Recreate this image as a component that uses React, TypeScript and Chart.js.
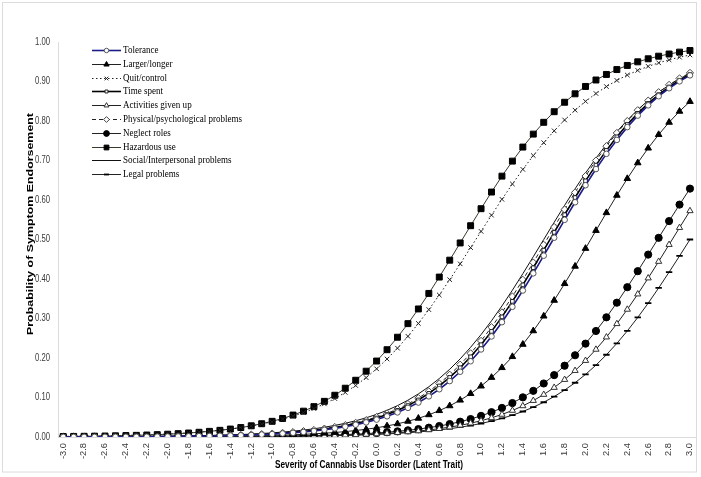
import React, { useEffect, useRef } from 'react';
import { Chart, registerables } from 'chart.js';
import { drawPoint } from 'chart.js/helpers';

Chart.register(...registerables);

const categories = [
  '-3.0','-2.9','-2.8','-2.7','-2.6','-2.5','-2.4','-2.3','-2.2','-2.1',
  '-2.0','-1.9','-1.8','-1.7','-1.6','-1.5','-1.4','-1.3','-1.2','-1.1',
  '-1.0','-0.9','-0.8','-0.7','-0.6','-0.5','-0.4','-0.3','-0.2','-0.1',
  '0.0','0.1','0.2','0.3','0.4','0.5','0.6','0.7','0.8','0.9',
  '1.0','1.1','1.2','1.3','1.4','1.5','1.6','1.7','1.8','1.9',
  '2.0','2.1','2.2','2.3','2.4','2.5','2.6','2.7','2.8','2.9',
  '3.0',
];

const tolerance = [
  0.0002,0.0002,0.0003,0.0003,0.0004,0.0005,0.0006,0.0007,0.0008,0.0010,
  0.0012,0.0015,0.0017,0.0021,0.0025,0.0030,0.0036,0.0043,0.0052,0.0062,
  0.0074,0.0089,0.0106,0.0127,0.0152,0.0182,0.0218,0.0260,0.0311,0.0370,
  0.0441,0.0525,0.0623,0.0738,0.0872,0.1029,0.1209,0.1416,0.1652,0.1918,
  0.2217,0.2546,0.2907,0.3296,0.3709,0.4144,0.4591,0.5045,0.5498,0.5943,
  0.6374,0.6784,0.7168,0.7521,0.7845,0.8137,0.8397,0.8627,0.8829,0.9004,
  0.9156,
];

const largerLonger = [
  0.0001,0.0001,0.0001,0.0002,0.0002,0.0003,0.0003,0.0004,0.0004,0.0005,
  0.0006,0.0008,0.0009,0.0011,0.0013,0.0016,0.0019,0.0022,0.0027,0.0032,
  0.0039,0.0046,0.0056,0.0067,0.0080,0.0096,0.0114,0.0137,0.0164,0.0196,
  0.0234,0.0280,0.0333,0.0397,0.0473,0.0562,0.0667,0.0789,0.0932,0.1098,
  0.1289,0.1507,0.1755,0.2034,0.2345,0.2687,0.3060,0.3459,0.3882,0.4322,
  0.4773,0.5227,0.5678,0.6118,0.6541,0.6940,0.7313,0.7655,0.7966,0.8245,
  0.8493,
];

const quitControl = [
  0.0015,0.0017,0.0021,0.0024,0.0029,0.0034,0.0040,0.0047,0.0055,0.0065,
  0.0076,0.0090,0.0106,0.0125,0.0147,0.0172,0.0203,0.0238,0.0280,0.0329,
  0.0385,0.0451,0.0528,0.0617,0.0719,0.0838,0.0973,0.1128,0.1304,0.1503,
  0.1726,0.1974,0.2249,0.2549,0.2875,0.3225,0.3595,0.3983,0.4384,0.4794,
  0.5206,0.5616,0.6017,0.6405,0.6775,0.7125,0.7451,0.7751,0.8026,0.8274,
  0.8497,0.8696,0.8872,0.9027,0.9163,0.9281,0.9383,0.9472,0.9549,0.9615,
  0.9671,
];

const timeSpent = [
  0.0002,0.0003,0.0003,0.0004,0.0005,0.0006,0.0007,0.0008,0.0010,0.0012,
  0.0014,0.0016,0.0020,0.0024,0.0028,0.0034,0.0040,0.0048,0.0058,0.0069,
  0.0083,0.0099,0.0118,0.0141,0.0168,0.0201,0.0240,0.0285,0.0340,0.0404,
  0.0480,0.0569,0.0673,0.0795,0.0938,0.1103,0.1292,0.1508,0.1753,0.2030,
  0.2336,0.2674,0.3041,0.3434,0.3851,0.4285,0.4730,0.5180,0.5627,0.6063,
  0.6484,0.6883,0.7256,0.7599,0.7911,0.8193,0.8445,0.8667,0.8861,0.9031,
  0.9178,
];

const activitiesGivenUp = [
  0.0000,0.0001,0.0001,0.0001,0.0001,0.0001,0.0001,0.0001,0.0002,0.0002,
  0.0002,0.0003,0.0003,0.0004,0.0005,0.0006,0.0007,0.0008,0.0010,0.0012,
  0.0014,0.0016,0.0019,0.0023,0.0027,0.0032,0.0038,0.0046,0.0054,0.0064,
  0.0076,0.0090,0.0107,0.0127,0.0151,0.0179,0.0211,0.0250,0.0295,0.0349,
  0.0412,0.0485,0.0571,0.0671,0.0787,0.0921,0.1075,0.1252,0.1453,0.1680,
  0.1934,0.2217,0.2528,0.2866,0.3230,0.3617,0.4023,0.4442,0.4870,0.5300,
  0.5725,
];

const physicalPsych = [
  0.0002,0.0003,0.0003,0.0004,0.0005,0.0006,0.0007,0.0008,0.0011,0.0013,
  0.0015,0.0017,0.0021,0.0025,0.0030,0.0036,0.0042,0.0051,0.0061,0.0073,
  0.0087,0.0104,0.0124,0.0149,0.0177,0.0212,0.0253,0.0300,0.0358,0.0425,
  0.0505,0.0598,0.0707,0.0835,0.0984,0.1156,0.1353,0.1577,0.1831,0.2117,
  0.2433,0.2780,0.3155,0.3556,0.3979,0.4417,0.4865,0.5315,0.5760,0.6192,
  0.6607,0.6999,0.7364,0.7697,0.7999,0.8273,0.8516,0.8729,0.8915,0.9078,
  0.9218,
];

const neglectRoles = [
  0.0001,0.0001,0.0001,0.0001,0.0001,0.0001,0.0002,0.0002,0.0002,0.0003,
  0.0003,0.0004,0.0005,0.0006,0.0007,0.0008,0.0010,0.0011,0.0013,0.0016,
  0.0019,0.0022,0.0026,0.0031,0.0037,0.0044,0.0052,0.0062,0.0073,0.0086,
  0.0102,0.0121,0.0143,0.0169,0.0200,0.0236,0.0278,0.0328,0.0387,0.0455,
  0.0535,0.0628,0.0736,0.0860,0.1004,0.1168,0.1355,0.1567,0.1805,0.2070,
  0.2363,0.2684,0.3030,0.3400,0.3792,0.4199,0.4618,0.5042,0.5466,0.5883,
  0.6288,
];

const hazardousUse = [
  0.0012,0.0015,0.0018,0.0021,0.0025,0.0030,0.0036,0.0042,0.0050,0.0060,
  0.0071,0.0085,0.0101,0.0120,0.0143,0.0169,0.0201,0.0239,0.0283,0.0336,
  0.0397,0.0469,0.0555,0.0654,0.0769,0.0903,0.1057,0.1235,0.1437,0.1666,
  0.1923,0.2210,0.2526,0.2870,0.3242,0.3635,0.4049,0.4477,0.4913,0.5349,
  0.5780,0.6201,0.6604,0.6984,0.7340,0.7668,0.7967,0.8235,0.8475,0.8688,
  0.8875,0.9038,0.9179,0.9302,0.9407,0.9498,0.9575,0.9641,0.9696,0.9744,
  0.9784,
];

const socialInterpersonal = [
  0.0003,0.0004,0.0005,0.0005,0.0006,0.0008,0.0009,0.0011,0.0013,0.0015,
  0.0018,0.0022,0.0026,0.0031,0.0037,0.0044,0.0052,0.0062,0.0074,0.0088,
  0.0105,0.0124,0.0148,0.0175,0.0208,0.0247,0.0293,0.0347,0.0411,0.0486,
  0.0573,0.0676,0.0794,0.0932,0.1091,0.1273,0.1480,0.1715,0.1978,0.2271,
  0.2592,0.2942,0.3318,0.3717,0.4134,0.4564,0.5000,0.5436,0.5866,0.6283,
  0.6682,0.7058,0.7408,0.7729,0.8022,0.8285,0.8520,0.8727,0.8909,0.9068,
  0.9206,
];

const legalProblems = [
  0.0000,0.0000,0.0001,0.0001,0.0001,0.0001,0.0001,0.0001,0.0002,0.0002,
  0.0002,0.0003,0.0003,0.0004,0.0005,0.0005,0.0006,0.0008,0.0009,0.0011,
  0.0013,0.0015,0.0018,0.0021,0.0024,0.0029,0.0034,0.0040,0.0048,0.0056,
  0.0066,0.0078,0.0092,0.0109,0.0128,0.0151,0.0179,0.0210,0.0248,0.0291,
  0.0342,0.0402,0.0471,0.0553,0.0646,0.0755,0.0880,0.1024,0.1188,0.1374,
  0.1584,0.1820,0.2082,0.2370,0.2685,0.3026,0.3389,0.3773,0.4173,0.4583,
  0.5000,
];

const yTicks = [0, 0.1, 0.2, 0.3, 0.4, 0.5, 0.6, 0.7, 0.8, 0.9, 1.0];

const xTitle = 'Severity of Cannabis Use Disorder (Latent Trait)';
const yTitle = 'Probability of Symptom Endorsement';

const SANS = "Arial, 'Liberation Sans', sans-serif";
const SERIF = "'Times New Roman', 'Liberation Serif', serif";

type Series = {
  label: string;
  data: number[];
  color: string;
  width: number;
  dash: number[];
  style: string | false;
  radius: number;
  fill: string;
  stroke: string;
  pbw: number;
};

const seriesList: Series[] = [
  { label: 'Tolerance', data: tolerance, color: '#1c1c8a', width: 1.6, dash: [], style: 'circle', radius: 2.8, fill: '#ffffff', stroke: '#555555', pbw: 1 },
  { label: 'Larger/longer', data: largerLonger, color: '#222222', width: 1, dash: [], style: 'triangle', radius: 3.8, fill: '#000000', stroke: '#000000', pbw: 1 },
  { label: 'Quit/control', data: quitControl, color: '#222222', width: 1, dash: [1.5, 2.5], style: 'crossRot', radius: 3.2, fill: '#000000', stroke: '#222222', pbw: 1 },
  { label: 'Time spent', data: timeSpent, color: '#000000', width: 1.6, dash: [], style: 'rect', radius: 2.6, fill: '#ffffff', stroke: '#222222', pbw: 1 },
  { label: 'Activities given up', data: activitiesGivenUp, color: '#222222', width: 1, dash: [], style: 'triangle', radius: 3.6, fill: '#ffffff', stroke: '#333333', pbw: 1 },
  { label: 'Physical/psychological problems', data: physicalPsych, color: '#222222', width: 1, dash: [4, 3], style: 'rectRot', radius: 3.6, fill: '#ffffff', stroke: '#444444', pbw: 1 },
  { label: 'Neglect roles', data: neglectRoles, color: '#222222', width: 1, dash: [], style: 'circle', radius: 3.6, fill: '#000000', stroke: '#000000', pbw: 1 },
  { label: 'Hazardous use', data: hazardousUse, color: '#3a3a2a', width: 1, dash: [], style: 'rect', radius: 4.2, fill: '#000000', stroke: '#000000', pbw: 1 },
  { label: 'Social/Interpersonal problems', data: socialInterpersonal, color: '#111111', width: 1, dash: [], style: false, radius: 0, fill: '#000000', stroke: '#000000', pbw: 1 },
  { label: 'Legal problems', data: legalProblems, color: '#222222', width: 1, dash: [], style: 'line', radius: 3.2, fill: '#000000', stroke: '#000000', pbw: 1.8 },
];

// draws text scaled along its reading direction / thickness
function fitText(
  ctx: CanvasRenderingContext2D,
  text: string,
  x: number,
  y: number,
  font: string,
  align: CanvasTextAlign,
  lenScale: number,
  thickScale: number,
  rot: number,
) {
  ctx.save();
  ctx.translate(x, y);
  ctx.rotate(rot);
  ctx.scale(lenScale, thickScale);
  ctx.font = font;
  ctx.textAlign = align;
  ctx.textBaseline = 'middle';
  ctx.fillText(text, 0, 0);
  ctx.restore();
}

function scaleFor(ctx: CanvasRenderingContext2D, font: string, sample: string, target: number) {
  ctx.save();
  ctx.font = font;
  const w = ctx.measureText(sample).width;
  ctx.restore();
  return w > 0 ? target / w : 1;
}

const overlayPlugin = {
  id: 'overlay',
  afterDraw(chart: any) {
    const ctx: CanvasRenderingContext2D = chart.ctx;
    const xs = chart.scales.x;
    const ys = chart.scales.y;
    ctx.save();
    // outer frame
    ctx.strokeStyle = '#dcdcdc';
    ctx.lineWidth = 1;
    ctx.strokeRect(2.5, 2.5, 694, 469.5);

    // y tick labels
    ctx.fillStyle = '#3a3a3a';
    const tickFont = `10px ${SANS}`;
    const ySc = scaleFor(ctx, tickFont, '1.00', 15);
    yTicks.forEach((v) => {
      const py = ys.getPixelForValue(v);
      fitText(ctx, v.toFixed(2), 50, py, tickFont, 'right', ySc, 1, 0);
    });

    // x tick labels (rotated)
    const xSc = scaleFor(ctx, tickFont, '-3.0', 16);
    categories.forEach((c, i) => {
      if (i % 2 !== 0) return;
      const px = xs.getPixelForValue(i);
      fitText(ctx, c, px, 443, tickFont, 'right', xSc, 0.85, -Math.PI / 2);
    });

    // axis titles
    ctx.fillStyle = '#000000';
    const titleFont = `bold 10px ${SANS}`;
    const xtSc = scaleFor(ctx, titleFont, xTitle, 188);
    fitText(ctx, xTitle, 369, 465, titleFont, 'center', xtSc, 1, 0);
    const ytSc = scaleFor(ctx, titleFont, yTitle, 222);
    fitText(ctx, yTitle, 30, 224, titleFont, 'center', ytSc, 0.95, -Math.PI / 2);

    // legend
    const x0 = 92;
    const x1 = 121;
    const xm = (x0 + x1) / 2;
    const legFont = `10px ${SERIF}`;
    const lgSc = scaleFor(ctx, legFont, 'Physical/psychological problems', 119);
    seriesList.forEach((s, i) => {
      const y = Math.round(50 + i * 13.8) + 0.5;
      ctx.save();
      ctx.strokeStyle = s.color;
      ctx.lineWidth = s.width;
      ctx.setLineDash(s.dash);
      ctx.beginPath();
      ctx.moveTo(x0, y);
      ctx.lineTo(x1, y);
      ctx.stroke();
      ctx.setLineDash([]);
      if (s.style) {
        ctx.fillStyle = s.fill;
        ctx.strokeStyle = s.stroke;
        ctx.lineWidth = s.pbw;
        drawPoint(ctx, { pointStyle: s.style as any, radius: s.radius * 0.8, rotation: 0, borderWidth: s.pbw } as any, xm, y);
      }
      ctx.restore();
      ctx.fillStyle = '#000000';
      fitText(ctx, s.label, 123, y, legFont, 'left', lgSc, 1, 0);
    });
    ctx.restore();
  },
};

export default function App() {
  const canvasRef = useRef<HTMLCanvasElement | null>(null);

  useEffect(() => {
    const canvas = canvasRef.current;
    if (!canvas) return;
    const chart = new Chart(canvas, {
      type: 'line',
      data: {
        labels: categories,
        datasets: seriesList.map((s) => ({
          label: s.label,
          data: s.data,
          borderColor: s.color,
          borderWidth: s.width,
          borderDash: s.dash,
          backgroundColor: s.fill,
          pointStyle: s.style as any,
          pointRadius: s.style ? s.radius : 0,
          pointBackgroundColor: s.fill,
          pointBorderColor: s.stroke,
          pointBorderWidth: s.pbw,
          fill: false,
          tension: 0,
        })),
      },
      options: {
        responsive: false,
        animation: false,
        devicePixelRatio: 1,
        layout: { padding: { left: 0, top: 42, right: 4, bottom: 0 } },
        plugins: {
          legend: { display: false },
          tooltip: { enabled: false },
          title: { display: false },
        },
        scales: {
          x: {
            type: 'category',
            offset: true,
            grid: { display: false, drawTicks: false },
            border: { display: true, color: '#dcdcdc', width: 1 },
            ticks: { display: false, autoSkip: false },
            afterFit: (scale: any) => {
              scale.height = 40;
            },
          },
          y: {
            type: 'linear',
            min: 0,
            max: 1,
            grid: { display: false, drawTicks: false },
            border: { display: true, color: '#dcdcdc', width: 1 },
            afterBuildTicks: (scale: any) => {
              scale.ticks = yTicks.map((v) => ({ value: v }));
            },
            ticks: { display: false },
            afterFit: (scale: any) => {
              scale.width = 58;
            },
          },
        },
      },
      plugins: [overlayPlugin],
    });
    return () => chart.destroy();
  }, []);

  return (
    <div style={{ position: 'fixed', left: 0, top: 0, width: 701, height: 477, background: '#ffffff' }}>
      <canvas ref={canvasRef} width={701} height={477} style={{ width: 701, height: 477, display: 'block' }} />
    </div>
  );
}
